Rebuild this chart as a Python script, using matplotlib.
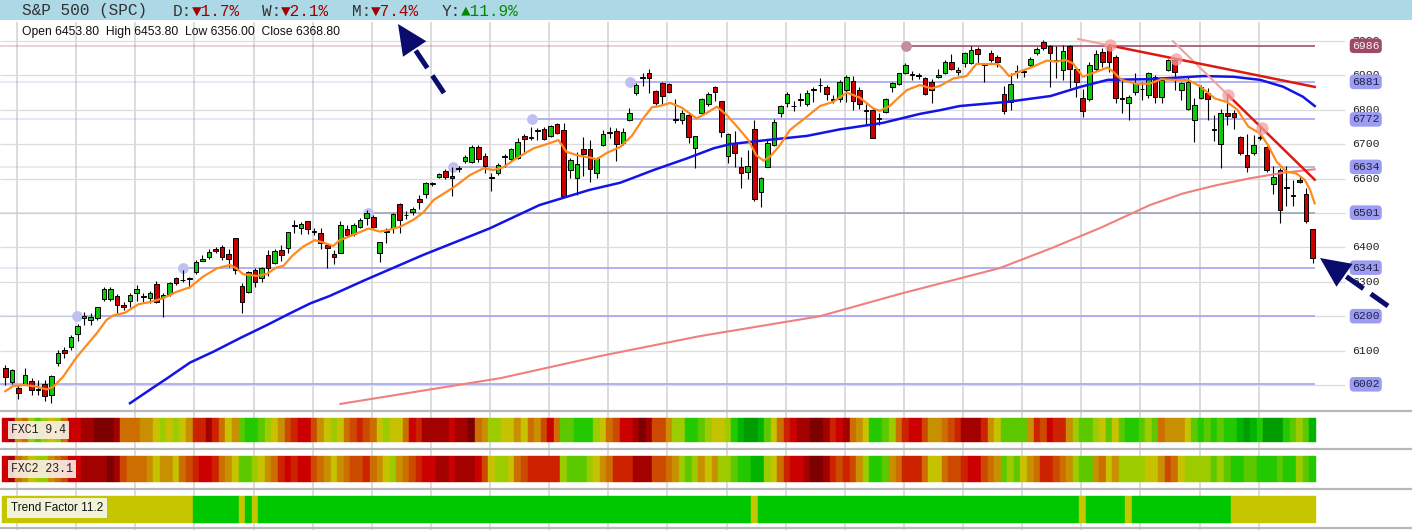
import matplotlib.pyplot as plt
from matplotlib.patches import Polygon
import numpy as np

# ---- candle data (one entry per trading day) ----
opens = [6048, 6010, 5990, 6003, 6011, 5987, 6004, 5971, 6065, 6103,
         6111, 6148, 6195, 6189, 6195, 6249, 6249, 6258, 6233, 6244,
         6267, 6257, 6254, 6293, 6255, 6265, 6310, 6304, 6308, 6328,
         6361, 6371, 6395, 6402, 6381, 6426, 6288, 6271, 6334, 6310,
         6377, 6356, 6392, 6397, 6463, 6455, 6477, 6447, 6443, 6407,
         6382, 6384, 6452, 6439, 6460, 6485, 6487, 6383, 6446, 6455,
         6526, 6495, 6504, 6542, 6555, 6586, 6606, 6622, 6608, 6631,
         6652, 6649, 6691, 6667, 6605, 6615, 6663, 6656, 6659, 6724,
         6719, 6738, 6744, 6724, 6759, 6741, 6625, 6603, 6685, 6685,
         6617, 6697, 6733, 6738, 6702, 6770, 6850, 6892, 6908, 6855,
         6877, 6875, 6773, 6770, 6785, 6688, 6792, 6817, 6865, 6825,
         6666, 6702, 6633, 6620, 6743, 6562, 6634, 6697, 6792, 6820,
         6812, 6829, 6817, 6858, 6871, 6867, 6829, 6830, 6857, 6884,
         6857, 6799, 6799, 6774, 6794, 6867, 6875, 6906, 6902, 6898,
         6893, 6882, 6894, 6906, 6940, 6911, 6935, 6935, 6976, 6933,
         6966, 6954, 6845, 6823, 6910, 6910, 6930, 6966, 6998, 6984,
         6942, 6916, 6984, 6920, 6833, 6830, 6918, 6969, 6986, 6954,
         6833, 6819, 6853, 6859, 6843, 6896, 6836, 6916, 6945, 6857,
         6801, 6770, 6833, 6848, 6745, 6700, 6792, 6790, 6722, 6670,
         6673, 6718, 6693, 6584, 6626, 6575, 6551, 6595, 6555, 6453.8]
highs = [6058, 6046, 6000, 6048, 6019, 6015, 6015, 6029, 6102, 6111,
         6145, 6177, 6213, 6208, 6227, 6286, 6284, 6265, 6240, 6267,
         6291, 6268, 6274, 6302, 6267, 6300, 6315, 6334, 6315, 6363,
         6378, 6395, 6402, 6407, 6394, 6426, 6296, 6330, 6339, 6344,
         6391, 6394, 6407, 6446, 6480, 6475, 6477, 6455, 6455, 6410,
         6392, 6477, 6465, 6470, 6485, 6509, 6494, 6417, 6455, 6499,
         6530, 6507, 6518, 6552, 6591, 6591, 6617, 6627, 6635, 6637,
         6668, 6698, 6698, 6673, 6615, 6646, 6672, 6688, 6717, 6730,
         6751, 6746, 6751, 6756, 6763, 6761, 6659, 6678, 6720, 6712,
         6664, 6741, 6751, 6746, 6746, 6806, 6879, 6908, 6918, 6857,
         6882, 6877, 6830, 6799, 6790, 6724, 6833, 6852, 6869, 6825,
         6733, 6739, 6664, 6683, 6770, 6604, 6712, 6772, 6814, 6852,
         6826, 6850, 6857, 6867, 6891, 6872, 6843, 6886, 6901, 6898,
         6867, 6817, 6804, 6790, 6833, 6882, 6908, 6935, 6914, 6908,
         6896, 6889, 6920, 6945, 6961, 6925, 6969, 6984, 6982, 6937,
         6974, 6959, 6869, 6906, 6930, 6917, 6954, 6982, 7003, 6988,
         6984, 6988, 6988, 6925, 6859, 6940, 6974, 6979, 6991, 6959,
         6887, 6843, 6906, 6882, 6911, 6901, 6896, 6947, 6950, 6882,
         6896, 6833, 6872, 6862, 6785, 6802, 6842, 6799, 6724, 6731,
         6727, 6751, 6695, 6637, 6632, 6637, 6597, 6607, 6572, 6453.8]
lows = [6000, 6003, 5959, 6000, 5971, 5971, 5954, 5947, 6056, 6078,
        6102, 6129, 6174, 6174, 6189, 6245, 6245, 6208, 6218, 6228,
        6245, 6242, 6237, 6237, 6199, 6259, 6291, 6300, 6281, 6323,
        6359, 6365, 6383, 6363, 6344, 6323, 6210, 6268, 6286, 6298,
        6317, 6352, 6359, 6383, 6443, 6439, 6439, 6436, 6396, 6341,
        6352, 6383, 6431, 6433, 6455, 6465, 6455, 6358, 6414, 6441,
        6441, 6482, 6494, 6513, 6545, 6577, 6601, 6598, 6548, 6620,
        6646, 6646, 6649, 6617, 6565, 6610, 6633, 6652, 6656, 6676,
        6712, 6712, 6712, 6720, 6730, 6548, 6601, 6552, 6607, 6591,
        6601, 6695, 6717, 6652, 6698, 6767, 6843, 6869, 6850, 6814,
        6814, 6848, 6763, 6759, 6704, 6630, 6790, 6811, 6826, 6722,
        6644, 6635, 6574, 6598, 6536, 6518, 6634, 6695, 6778, 6809,
        6797, 6811, 6811, 6823, 6852, 6828, 6820, 6823, 6823, 6799,
        6801, 6759, 6717, 6756, 6792, 6852, 6872, 6903, 6887, 6889,
        6843, 6820, 6891, 6903, 6916, 6901, 6925, 6933, 6935, 6882,
        6940, 6925, 6787, 6799, 6891, 6896, 6925, 6959, 6974, 6867,
        6891, 6887, 6862, 6838, 6778, 6826, 6914, 6925, 6911, 6820,
        6792, 6770, 6843, 6828, 6833, 6819, 6819, 6913, 6857, 6828,
        6799, 6707, 6830, 6770, 6710, 6632, 6756, 6743, 6668, 6620,
        6668, 6712, 6620, 6555, 6470, 6520, 6521, 6588, 6472, 6356.0]
closes = [6024, 6043, 5978, 6030, 5986, 5984, 5969, 6025, 6093, 6094,
          6139, 6172, 6202, 6197, 6227, 6279, 6279, 6233, 6227, 6261,
          6279, 6259, 6267, 6242, 6262, 6296, 6296, 6306, 6310, 6358,
          6366, 6387, 6389, 6371, 6365, 6334, 6240, 6328, 6298, 6339,
          6339, 6390, 6378, 6446, 6465, 6468, 6453, 6445, 6412, 6397,
          6371, 6464, 6436, 6465, 6480, 6499, 6460, 6415, 6449, 6497,
          6481, 6493, 6511, 6533, 6586, 6584, 6613, 6606, 6601, 6629,
          6662, 6691, 6656, 6636, 6603, 6639, 6665, 6685, 6707, 6714,
          6721, 6740, 6714, 6753, 6733, 6549, 6654, 6642, 6672, 6627,
          6659, 6731, 6735, 6700, 6736, 6790, 6872, 6894, 6891, 6820,
          6841, 6852, 6771, 6792, 6722, 6724, 6830, 6846, 6851, 6736,
          6731, 6673, 6617, 6637, 6540, 6601, 6702, 6765, 6811, 6846,
          6810, 6831, 6848, 6860, 6873, 6845, 6831, 6881, 6896, 6826,
          6818, 6797, 6719, 6776, 6830, 6879, 6906, 6930, 6904, 6900,
          6846, 6857, 6901, 6940, 6920, 6917, 6964, 6974, 6962, 6931,
          6945, 6940, 6796, 6874, 6911, 6911, 6947, 6976, 6979, 6966,
          6944, 6972, 6918, 6882, 6797, 6930, 6962, 6940, 6940, 6833,
          6831, 6838, 6877, 6860, 6906, 6836, 6887, 6945, 6909, 6877,
          6880, 6813, 6865, 6830, 6741, 6792, 6782, 6778, 6675, 6633,
          6697, 6720, 6625, 6604, 6508, 6573, 6550, 6591, 6478, 6368.8]

# moving averages (candle index, price)
ema_x = [0, 1.2, 3, 4.8, 6.3, 7.3, 8.8, 10.9, 12.4, 13.9, 15.4, 16.4, 18.2, 20.3, 22, 24,
         26.1, 28.1, 30.1, 32.2, 34.2, 35.2, 36.2, 38.3, 39.8, 41.3, 42.3, 43.8, 45.4,
         47.1, 48.4, 49.9, 50.9, 52.9, 55.3, 57.0, 58.0, 60.1, 62.1, 63.6, 65.2, 67.2,
         68.7, 70.7, 72.8, 74.3, 75.8, 77.8, 80.4, 82.4, 84.2, 85.4, 87.0, 89.0, 90.0,
         91.6, 93.6, 95.4, 97.1, 98.4, 99.6, 101.2, 102.9, 105.2, 106.7, 108.3, 109.8,
         111.6, 113.1, 114.3, 115.4, 116.4, 117.9, 119.4, 122.0, 124.0, 126.0, 128.1,
         130.1, 132.1, 133.1, 134.6, 137.2, 139.2, 141.0, 142.3, 144.3, 146.3, 147.8,
         149.8, 151.1, 151.8, 152.8, 154.4, 156.4, 158.5, 160.0, 161.3, 162.5, 164.0,
         166.1, 167.8, 168.6, 169.9, 172.2, 174.2, 176.0, 177.8, 180.1, 181.8, 184.1,
         185.9, 187.5, 189.2, 191.0, 192.2, 193.5, 195.0, 196.5, 197.8, 198.6, 199.3]
ema_y = [5982, 5997, 6000, 5995, 5987, 5995, 6024, 6082, 6116, 6150, 6189, 6202, 6210, 6235, 6241, 6252,
         6271, 6284, 6315, 6339, 6349, 6339, 6322, 6317, 6323, 6342, 6346, 6378, 6403,
         6421, 6414, 6404, 6421, 6436, 6455, 6446, 6449, 6460, 6480, 6501, 6538, 6562,
         6581, 6610, 6630, 6625, 6633, 6659, 6688, 6700, 6712, 6678, 6668, 6661, 6656,
         6675, 6692, 6725, 6775, 6807, 6811, 6820, 6807, 6775, 6790, 6809, 6785,
         6746, 6712, 6668, 6652, 6664, 6697, 6741, 6780, 6811, 6823, 6850,
         6835, 6804, 6797, 6811, 6857, 6872, 6862, 6870, 6891, 6898, 6933,
         6933, 6933, 6920, 6898, 6911, 6925, 6943, 6940, 6945, 6935, 6896,
         6911, 6923, 6911, 6887, 6875, 6876, 6889, 6887, 6886, 6869, 6833,
         6823, 6801, 6751, 6731, 6697, 6649, 6620, 6615, 6596, 6567, 6528]

sma50_x = [18.98, 22.0, 24.6, 28.1, 31.7, 35.7, 39.8, 43.3, 46.4, 49.4, 54.75, 63.6,
           73.7, 81.3, 88.9, 93.6, 95.0, 98.7, 103.8, 107.8, 110.3, 115.9, 122.0, 127.0,
           133.6, 139.2, 142.3, 145.3, 152.5, 159.1, 163.7, 167.8, 173.9, 178.0, 182.3,
           186.9, 191.0, 194.5, 197.5, 199.3]
sma50_y = [5947, 5986, 6019, 6065, 6097, 6136, 6174, 6208, 6237, 6259, 6305, 6378,
           6455, 6523, 6567, 6588, 6598, 6625, 6659, 6688, 6700, 6712, 6724, 6743,
           6762, 6788, 6799, 6811, 6823, 6840, 6867, 6887, 6889, 6893, 6898,
           6896, 6887, 6867, 6838, 6811]

sma200_x = [51, 75.4, 90.5, 105.7, 124, 136.2, 151.4, 159, 166.6, 174.2, 179.3, 184.4,
            189.5, 194.5, 199.3]
sma200_y = [5945, 6020, 6084, 6142, 6200, 6265, 6340, 6396, 6456, 6523, 6557, 6581,
            6601, 6617, 6627]

# support / resistance levels and the candle where each one was found
level_prices = [6986, 6881, 6772, 6634, 6501, 6341, 6200, 6002]
level_from = [137.1, 95.1, 80.2, 68.1, 55.2, 27.0, 10.9, None]
level_colors = ['#a05070', '#a4a4f0', '#a4a4f0', '#acacd4', '#a2a2b8', '#a4a4f0', '#a4a4f0', '#a4a4f0']
badge_colors = ['#a04868', '#9c9cf2', '#9c9cf2', '#9c9cf2', '#9c9cf2', '#9c9cf2', '#9c9cf2', '#9c9cf2']

# down trend lines, two touching highs each
trend1_x = [168.1, 178.2]
trend1_y = [6987, 6948]
trend2_x = [186.1, 191.3]
trend2_y = [6843, 6746]

# indicator strips (colour level per candle, 0 = deep red ... 12 = deep green)
fxc1 = [2, 1, 6, 5, 8, 9, 8, 7, 8, 5, 2, 2, 1, 1, 0, 0, 0, 1, 5, 5,
        5, 6, 6, 7, 8, 7, 8, 7, 6, 3, 3, 1, 3, 5, 7, 6, 9, 10, 10, 9,
        8, 7, 6, 4, 3, 2, 2, 4, 6, 7, 8, 7, 5, 4, 3, 4, 5, 7, 8, 7,
        7, 5, 2, 3, 1, 1, 1, 1, 2, 1, 1, 0, 5, 6, 8, 8, 7, 7, 6, 7,
        5, 6, 4, 2, 5, 9, 9, 10, 10, 10, 8, 7, 5, 4, 2, 2, 1, 0, 1, 4,
        4, 6, 8, 8, 10, 10, 9, 8, 7, 7, 8, 10, 11, 12, 12, 11, 9, 7, 5, 3,
        2, 1, 1, 0, 0, 1, 3, 2, 1, 5, 6, 7, 10, 10, 9, 8, 5, 3, 2, 2,
        4, 6, 6, 5, 4, 3, 1, 1, 1, 3, 6, 7, 9, 9, 9, 9, 6, 3, 4, 2,
        3, 3, 6, 8, 9, 9, 8, 7, 9, 7, 9, 10, 10, 9, 8, 9, 5, 6, 6, 6,
        7, 9, 10, 9, 10, 9, 10, 10, 11, 12, 11, 10, 12, 12, 12, 10, 9, 8, 9, 11]
fxc2 = [2, 1, 5, 6, 7, 8, 8, 6, 5, 4, 2, 2, 1, 1, 1, 1, 0, 1, 4, 5,
        5, 5, 6, 7, 6, 6, 7, 5, 4, 3, 2, 2, 3, 5, 6, 7, 9, 9, 8, 7,
        6, 5, 3, 2, 3, 2, 2, 4, 5, 6, 7, 6, 5, 4, 4, 3, 5, 6, 7, 8,
        6, 5, 4, 3, 2, 2, 1, 1, 2, 1, 1, 1, 2, 4, 7, 8, 8, 7, 5, 4,
        3, 3, 3, 3, 3, 8, 9, 9, 9, 8, 7, 6, 5, 3, 3, 3, 1, 1, 1, 4,
        4, 5, 6, 8, 9, 8, 6, 7, 6, 8, 8, 9, 10, 10, 11, 11, 8, 7, 5, 3,
        2, 2, 1, 0, 0, 1, 3, 4, 3, 4, 6, 8, 10, 10, 9, 6, 5, 3, 3, 3,
        5, 7, 7, 5, 4, 4, 3, 2, 2, 4, 5, 6, 9, 8, 9, 7, 6, 5, 3, 3,
        4, 5, 6, 8, 9, 9, 6, 5, 7, 6, 8, 8, 8, 8, 7, 7, 6, 4, 5, 7,
        8, 8, 8, 8, 9, 8, 9, 10, 10, 9, 9, 10, 10, 10, 9, 10, 10, 8, 9, 10]
palette = ['#7c0000', '#a30000', '#cc0000', '#cc2200', '#cc4a00', '#cc6e00', '#c89000',
           '#c6c200', '#9ccc00', '#5cc800', '#22c800', '#00b400', '#009c00']

# trend factor runs: (first candle, last candle + 1, state)
trend_runs = [(0, 29, 0), (29, 36, 1), (36, 37, 0), (37, 38, 1), (38, 39, 0),
              (39, 114, 1), (114, 115, 0), (115, 164, 1), (164, 165, 0),
              (165, 171, 1), (171, 172, 0), (172, 187, 1), (187, 200, 0)]
trend_colors = ['#c6c600', '#00c800']

W, H = 1412, 530
STEP = 6.57
X0 = 5.3
MONO = ['Liberation Mono', 'DejaVu Sans Mono']
SANS = ['Liberation Sans', 'DejaVu Sans']
NAVY = '#0b0b6e'

xlo = -X0 / STEP
xhi = (W - X0) / STEP
idx = np.arange(len(closes))

fig = plt.figure(figsize=(W / 100, H / 100), dpi=100)

# background: header band, grid columns, indicator strips (rows in pixels)
bg = fig.add_axes([0, 0, 1, 1])
bg.set_xlim(xlo, xhi)
bg.set_ylim(H, 0)
bg.axis('off')
bg.axhspan(0, 20, color='#add8e6', lw=0)
bg.vlines(np.arange(1.78, 192, 9), 22, H, color='#dcdcdc', lw=1.4, zorder=0)
for yy in (410.7, 448.7, 488.7, 528.3):
    bg.axhline(yy, color='#b8b8b8', lw=1.6, zorder=1)

c1 = [palette[v] for v in fxc1]
c2 = [palette[v] for v in fxc2]
bg.bar(idx, 24, bottom=418, width=1.0, color=c1, edgecolor=c1, lw=0.3, zorder=2)
bg.bar(idx, 26, bottom=456, width=1.0, color=c2, edgecolor=c2, lw=0.3, zorder=2)
for a, b, s in trend_runs:
    bg.bar((a + b - 1) / 2, 27, bottom=496, width=b - a, color=trend_colors[s],
           edgecolor=trend_colors[s], lw=0.3, zorder=2)

# price panel
ax = fig.add_axes([0, 120 / H, 1, 390 / H])
ax.set_xlim(xlo, xhi)
ax.set_ylim(5927.3, 7061)
ax.axis('off')

ticks = np.arange(6000, 7001, 100)
ax.hlines(ticks, xlo, (1345 - X0) / STEP, color='#dcdcdc', lw=0.9, zorder=0)
lab_x = (1352 - X0) / STEP
for t in ticks:
    ax.text(lab_x, t, str(t), ha='left', va='center', family=MONO, fontsize=8.2,
            color='#222222', zorder=6)

line_end = (1315 - X0) / STEP
for p, start, lc, bc in zip(level_prices, level_from, level_colors, badge_colors):
    if start is None:
        ax.hlines(p, xlo, line_end, color=lc, lw=1.2, zorder=1)
    else:
        ax.hlines(p, xlo, start, color=lc, lw=1.2, alpha=0.3, zorder=1)
        ax.hlines(p, start, line_end, color=lc, lw=1.2, zorder=1)
        dot = '#c0c0f2' if bc != '#a04868' else '#c08ea0'
        ax.scatter([start], [p], s=60, color=dot, lw=0, zorder=2)
    tc = '#f4f4f4' if bc == '#a04868' else '#20204a'
    ax.text(lab_x, p, str(p), ha='left', va='center', family=MONO, fontsize=8.2, color=tc,
            zorder=7, bbox=dict(boxstyle='round,pad=0.2,rounding_size=0.35', fc=bc, ec='none'))

# candles
o = np.array(opens)
c = np.array(closes)
body_lo = np.minimum(o, c)
body_h = np.maximum(np.abs(c - o), 1.5)
cols = ['#10c810' if cc >= oo else '#cc0000' for oo, cc in zip(o, c)]
ax.vlines(idx, lows, highs, color='black', lw=0.8, zorder=3)
ax.bar(idx, body_h, bottom=body_lo, width=0.7, color=cols, edgecolor='black', lw=0.7, zorder=4)

ax.plot(sma200_x, sma200_y, color='#f08080', lw=1.5, zorder=5)
ax.plot(sma50_x, sma50_y, color='#1414e6', lw=1.8, zorder=5)
ax.plot(ema_x, ema_y, color='#ff8a1e', lw=1.6, zorder=5)

# trend lines with faded lead-in
for tx, ty, lead in ((trend1_x, trend1_y, 163.3), (trend2_x, trend2_y, 177.7)):
    k = (ty[1] - ty[0]) / (tx[1] - tx[0])
    end = 199.3
    ax.plot([lead, tx[0]], [ty[0] + k * (lead - tx[0]), ty[0]], color='#f4a0a0', lw=1.5, zorder=5)
    ax.plot([tx[0], end], [ty[0], ty[0] + k * (end - tx[0])], color='#dd1a10', lw=1.8, zorder=6)
    ax.scatter(tx, ty, s=80, color='#f59c9c', alpha=0.75, lw=0, zorder=6)

# overlay: header text, strip labels, arrows (pixel coordinates)
ov = fig.add_axes([0, 0, 1, 1])
ov.set_xlim(0, W)
ov.set_ylim(H, 0)
ov.axis('off')

ov.text(22, 11, 'S&P 500 (SPC)', ha='left', va='center', family=MONO, fontsize=11.6, color='#333333')
cw = 0.6 * 11.6 * 100 / 72
for x, name, val, col in ((173, 'D:', '▼1.7%', '#a00000'), (262, 'W:', '▼2.1%', '#a00000'),
                          (352, 'M:', '▼7.4%', '#a00000'), (442, 'Y:', '▲11.9%', '#008a00')):
    ov.text(x, 11, name, ha='left', va='center', family=MONO, fontsize=11.6, color='#333333')
    ov.text(x + 2 * cw, 11, val, ha='left', va='center', family=MONO, fontsize=11.6, color=col)

ov.text(22, 32.5, f'Open {opens[-1]:.2f}  High {highs[-1]:.2f}  Low {lows[-1]:.2f}  Close {closes[-1]:.2f}',
        ha='left', va='center', family=SANS, fontsize=8.7, color='#111111')

ov.text(11, 430, 'FXC1 9.4', ha='left', va='center', family=MONO, fontsize=8.3, color='#222222',
        bbox=dict(boxstyle='square,pad=0.3', fc='#fbeee9', ec='none', alpha=0.9))
ov.text(11, 469, 'FXC2 23.1', ha='left', va='center', family=MONO, fontsize=8.3, color='#222222',
        bbox=dict(boxstyle='square,pad=0.3', fc='#fbeee9', ec='none', alpha=0.9))
ov.text(11, 508, 'Trend Factor 11.2', ha='left', va='center', family=SANS, fontsize=8.5, color='#111111',
        bbox=dict(boxstyle='square,pad=0.3', fc='#f2f2d8', ec='none'))


def arrow(tip, tail):
    tip = np.array(tip, float)
    tail = np.array(tail, float)
    u = (tip - tail) / np.linalg.norm(tip - tail)
    n = np.array([-u[1], u[0]])
    base = tip - 30 * u
    ov.plot([tail[0], base[0]], [tail[1], base[1]], color=NAVY, lw=3.6,
            ls=(0, (4.2, 1.8)), dash_capstyle='butt')
    ov.add_patch(Polygon([tip, base + 14 * n, base - 14 * n], closed=True, color=NAVY, lw=0))


arrow((398, 24), (444, 93))
arrow((1320, 258), (1388, 306))

fig.savefig('out.png', dpi=100)
